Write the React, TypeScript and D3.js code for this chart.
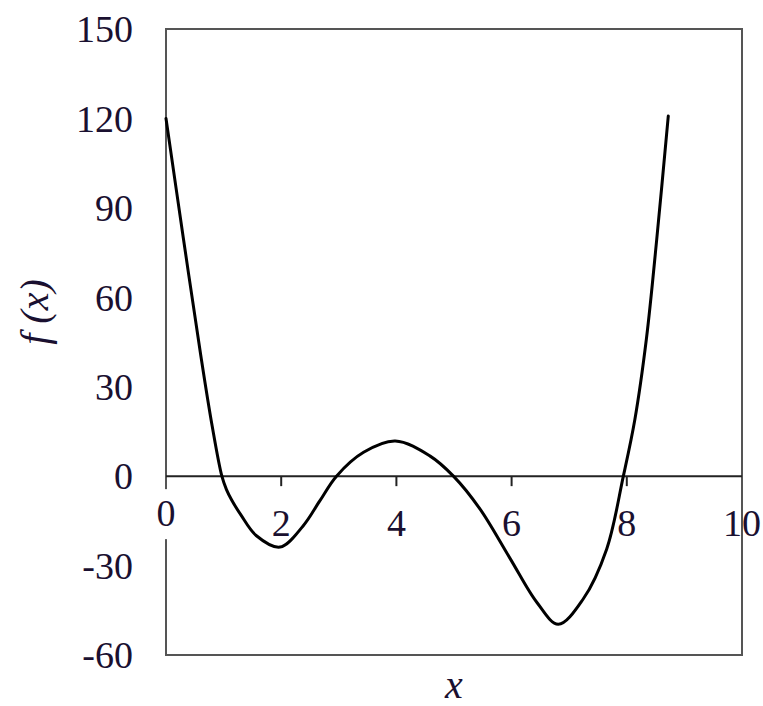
import React from "react";
import * as d3 from "d3";

const xValues = [0, 0.3, 0.6, 0.8, 0.97, 1.05, 1.14, 1.3, 1.57, 1.98, 2.38, 2.67, 2.96, 3.43, 3.98, 4.58, 4.99, 5.45, 5.97, 6.44, 6.81, 7.24, 7.65, 7.94, 8.14, 8.34, 8.52, 8.72];
const yValues = [120, 80, 41, 17, 0, -4.5, -8, -13, -20, -23.8, -16.7, -8.3, 0, 8, 11.8, 6.8, 0, -11, -27.5, -42.4, -49.7, -41.3, -24.5, 0, 19, 46, 79.5, 120.8];
const xTicks = [0, 2, 4, 6, 8, 10];
const yTicks = [-60, -30, 0, 30, 60, 90, 120, 150];

const W = 763;
const H = 706;
const M = { left: 166, right: 21, top: 29, bottom: 51 };

export default function App() {
  const x = d3.scaleLinear().domain([0, 10]).range([M.left, W - M.right]);
  const y = d3.scaleLinear().domain([-60, 150]).range([H - M.bottom, M.top]);
  const pts: [number, number][] = xValues.map((v, i) => [v, yValues[i]]);
  const line = d3
    .line<[number, number]>()
    .x((d) => x(d[0]))
    .y((d) => y(d[1]))
    .curve(d3.curveCatmullRom.alpha(0.5));
  const font = "'Liberation Serif', 'Times New Roman', serif";
  const y0 = y(0);
  return (
    <svg width={W} height={H} style={{ position: "absolute", left: 0, top: 0, background: "#fff" }}>
      <rect
        x={x(0)}
        y={y(150)}
        width={x(10) - x(0)}
        height={y(-60) - y(150)}
        fill="none"
        stroke="#555"
        strokeWidth={2}
      />
      <line x1={x(0)} x2={x(10)} y1={y0} y2={y0} stroke="#222" strokeWidth={2} />
      {xTicks.filter((t) => t > 0 && t < 10).map((t) => (
        <line key={"t" + t} x1={x(t)} x2={x(t)} y1={y0} y2={y0 + 10} stroke="#222" strokeWidth={2} />
      ))}
      <path d={line(pts) || ""} fill="none" stroke="#000" strokeWidth={3} strokeLinejoin="round" strokeLinecap="round" />
      <rect x={x(0) - 12} y={y0 + 13} width={24} height={50} fill="#fff" />
      {xTicks.map((t) => (
        <text
          key={"xl" + t}
          x={x(t)}
          y={y0 + (t === 0 ? 50 : 60)}
          textAnchor="middle"
          fontFamily={font}
          fontSize={38}
          fill="#1a1030"
        >
          {t}
        </text>
      ))}
      {yTicks.map((t) => (
        <text
          key={"yl" + t}
          x={133}
          y={y(t)}
          dy="0.35em"
          textAnchor="end"
          fontFamily={font}
          fontSize={38}
          fill="#1a1030"
        >
          {t}
        </text>
      ))}
      <text
        transform={`translate(48, ${312}) rotate(-90)`}
        textAnchor="middle"
        fontFamily={font}
        fontSize={40}
        fontStyle="italic"
        fill="#1a1030"
      >
        f (x)
      </text>
      <text
        x={x(5)}
        y={698}
        textAnchor="middle"
        fontFamily={font}
        fontSize={40}
        fontStyle="italic"
        fill="#1a1030"
      >
        x
      </text>
    </svg>
  );
}
